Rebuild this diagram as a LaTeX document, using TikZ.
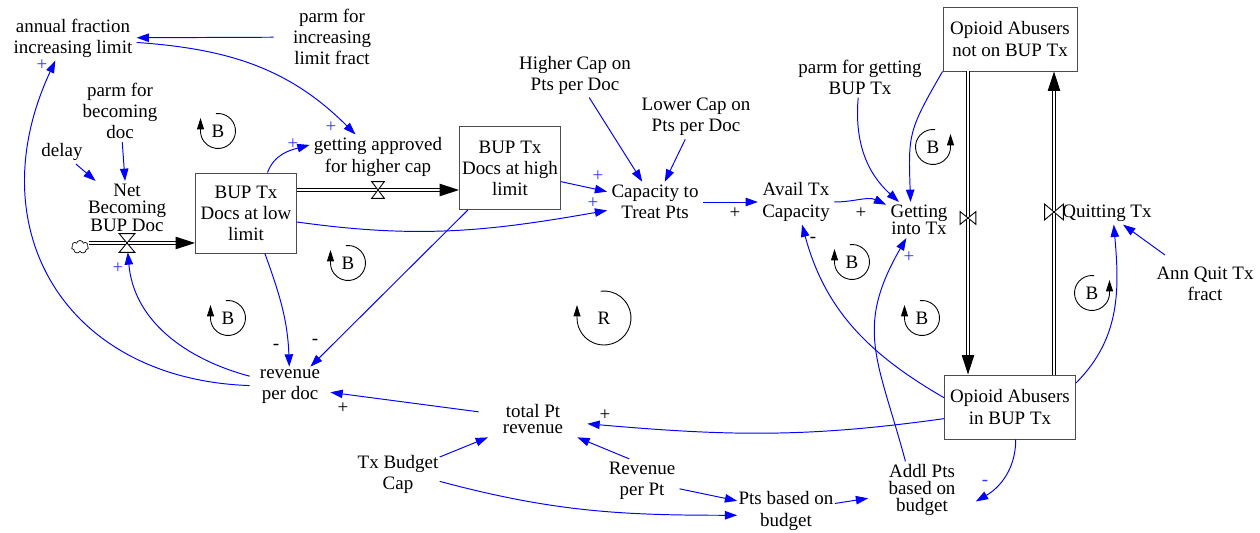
\documentclass[tikz,border=0pt]{standalone}
\usepackage{fontspec}
\setmainfont{Liberation Serif}
\usetikzlibrary{arrows.meta,shapes.symbols,positioning}

\begin{document}
\begin{tikzpicture}[x=0.02cm, y=0.02cm,
		var/.style={inner xsep=0.08cm, inner ysep=0.06cm, align=center, font=\fontsize{10.8}{12}\selectfont},
		tight/.style={var, font=\fontsize{10.8}{9.5}\selectfont},
		stock/.style={rectangle, draw=black!70, line width=0.55pt, align=center, inner sep=0pt, font=\fontsize{10.8}{12}\selectfont},
		link/.style={->, blue, line width=0.55pt},
		pipe/.style={double, double distance=1.5pt, line width=0.55pt, -{Triangle[length=11pt,width=7pt]}},
		valve/.style={rectangle, inner sep=0pt},
		vline/.style={draw, fill=white, line width=0.5pt},
		sgn/.style={inner sep=0pt, font=\fontsize{10.8}{12}\selectfont},
		bsgn/.style={sgn, blue!80},
		pics/cwloop/.style args={#1/#2}{code={
				\draw[line width=0.5pt, -{Triangle[length=6.5pt,width=4pt]}] (97:#2) arc[start angle=97, end angle=-180, radius=#2] -- ++(0,0.26cm);
				\node[sgn] {#1};}},
		pics/ccwloop/.style args={#1/#2}{code={
				\draw[line width=0.5pt, -{Triangle[length=6.5pt,width=4pt]}] (83:#2) arc[start angle=83, end angle=360, radius=#2] -- ++(0,0.26cm);
				\node[sgn] {#1};}},
		>={Triangle[length=7pt,width=4.8pt]}
		]
		\useasboundingbox (0,0) rectangle (1260,-533);
		
		\node[var] (afil) at (73,-38) {annual fraction\\increasing limit};
		\node[var] (pilf) at (332,-37) {parm for\\increasing\\limit fract};
		\node[var] (pbd) at (120,-111) {parm for\\becoming\\doc};
		\node[var] (delay) at (62,-152) {delay};
		\node[tight, font=\fontsize{10.8}{9.4}\selectfont] (nbbd) at (127,-208) {Net\\Becoming\\BUP Doc};
		\node[stock, minimum width=2.02cm, minimum height=1.6cm] (low) at (246,-213) {BUP Tx\\Docs at low\\limit};
		\node[var] (gahc) at (378,-157) {getting approved\\for higher cap};
		\node[stock, minimum width=2.02cm, minimum height=1.66cm] (high) at (510,-168) {BUP Tx\\Docs at high\\limit};
		\node[var] (hcap) at (575,-75) {Higher Cap on\\Pts per Doc};
		\node[var] (lcap) at (696,-117) {Lower Cap on\\Pts per Doc};
		\node[var] (ctp) at (655,-202) {Capacity to\\Treat Pts};
		\node[var] (atc) at (796,-202) {Avail Tx\\Capacity};
		\node[var] (pgbt) at (860,-77) {parm for getting\\BUP Tx};
		\node[tight] (git) at (919,-220) {Getting\\into Tx};
		\node[stock, minimum width=2.68cm, minimum height=1.28cm] (oanot) at (1010,-39) {Opioid Abusers\\not on BUP Tx};
		\node[stock, minimum width=2.62cm, minimum height=1.28cm] (oain) at (1010,-407) {Opioid Abusers\\in BUP Tx};
		\node[var, inner xsep=0pt] (qt) at (1107,-213) {Quitting Tx};
		\node[var] (aqtf) at (1205,-284) {Ann Quit Tx\\fract};
		\node[var, inner xsep=0.2cm] (rpd) at (290,-387) {revenue\\per doc};
		\node[tight, inner xsep=0.48cm] (tpr) at (533,-419) {total Pt\\revenue};
		\node[var, inner xsep=0.02cm] (tbc) at (398,-474) {Tx Budget\\Cap};
		\node[var] (rpp) at (642,-481) {Revenue\\per Pt};
		\node[var, inner xsep=0.02cm] (pbb) at (786,-511) {Pts based on\\budget};
		\node[tight, inner xsep=0.4cm] (apbb) at (922,-490) {Addl Pts\\based on\\budget};
		
		\node[valve, minimum width=0.3cm, minimum height=0.36cm] (v1) at (127,-243) {};
		\node[valve, minimum width=0.24cm, minimum height=0.32cm] (v2) at (378,-190) {};
		\node[valve, minimum width=0.3cm, minimum height=0.24cm] (v3) at (968,-218) {};
		\node[valve, minimum width=0.36cm, minimum height=0.3cm] (v4) at (1054,-212) {};
		\node[cloud, draw, cloud puffs=7, minimum width=0.34cm, minimum height=0.26cm, inner sep=0pt, line width=0.4pt] (src) at (80,-247) {};
		
		\draw[pipe] (src.east |- v1) -- (v1 -| low.west);
		\draw[pipe] (v2 -| low.east) -- (v2 -| high.west);
		\draw[pipe] (v3 |- oanot.south) -- (v3 |- oain.north);
		\draw[pipe] (v4 |- oain.north) -- (v4 |- oanot.south);
		\draw[vline] (v1.south west) -- (v1.south east) -- (v1.north west) -- (v1.north east) -- cycle;
		\draw[vline] (v2.south west) -- (v2.south east) -- (v2.north west) -- (v2.north east) -- cycle;
		\draw[vline] (v3.south west) -- (v3.north west) -- (v3.south east) -- (v3.north east) -- cycle;
		\draw[vline] (v4.south west) -- (v4.north west) -- (v4.south east) -- (v4.north east) -- cycle;
		
		\draw[link, shorten <=0.3cm] (pilf) -- (afil);
		\draw[link] (afil) to[out=-4, in=135] (gahc);
		\draw[link] (rpd) to[out=178, in=-115, looseness=1.25] (afil.-128);
		\draw[link] (delay) -- (nbbd);
		\draw[link] (pbd) -- (nbbd);
		\draw[link] (rpd) to[out=165, in=-85] (v1);
		\draw[link] (low.62) to[out=70, in=195] (gahc.170);
		\draw[link] (low.-10) to[out=-8, in=190] (ctp);
		\draw[link] (high.-15) -- (ctp);
		\draw[link] (hcap) -- (ctp);
		\draw[link] (lcap) -- (ctp);
		\draw[link] (ctp) -- (atc);
		\draw[link] (atc) to[out=0, in=155] (git);
		\draw[link] (pgbt) to[out=-95, in=138] (git);
		\draw[link] (oanot.south west) to[out=-120, in=92, looseness=1.3] (git.115);
		\draw[link] (oain.172) to[out=150, in=-75] (atc);
		\draw[link] (apbb.120) to[out=105, in=-120, looseness=1.2] (git.-125);
		\draw[link] (oain.20) to[out=45, in=-85] (qt.-60);
		\draw[link, shorten <=0.3cm] (aqtf) -- (qt);
		\draw[link] (oain.-80) to[out=-90, in=30] (apbb.-12);
		\draw[link] (oain.-170) to[out=-172, in=-5] (tpr);
		\draw[link] (tpr) -- (rpd);
		\draw[link] (low.-65) to[out=-70, in=92] (rpd);
		\draw[link] (high) -- (rpd);
		\draw[link] (tbc) -- (tpr);
		\draw[link] (rpp.120) -- (tpr);
		\draw[link] (rpp) -- (pbb);
		\draw[link] (tbc.-10) to[out=-15, in=180] (pbb.-175);
		\draw[link] (pbb) -- (apbb);
		
		\node[bsgn] (s1) at (42,-65) {+};
		\node[bsgn] (s2) at (331,-127) {+};
		\node[bsgn] (s3) at (293,-144) {+};
		\node[bsgn] (s4) at (118,-268) {+};
		\node[bsgn] (s5) at (598,-176) {+};
		\node[bsgn] (s6) at (593,-203) {+};
		\node[sgn] (s7) at (735,-213) {+};
		\node[sgn] (s8) at (861,-213) {+};
		\node[sgn] (s9) at (813,-240) {-};
		\node[bsgn] (s10) at (909,-257) {+};
		\node[bsgn] (s11) at (985,-483) {-};
		\node[sgn] (s12) at (605,-415) {+};
		\node[sgn] (s13) at (343,-408) {+};
		\node[sgn] (s14) at (276,-347) {-};
		\node[sgn] (s15) at (315,-342) {-};
		
		\pic at (218,-131) {cwloop=B/0.35cm};
		\pic at (348,-263) {cwloop=B/0.35cm};
		\pic at (228,-318) {cwloop=B/0.35cm};
		\pic at (604,-318) {cwloop=R/0.54cm};
		\pic at (852,-262) {cwloop=B/0.35cm};
		\pic at (922,-318) {cwloop=B/0.35cm};
		\pic at (933,-147) {ccwloop=B/0.35cm};
		\pic at (1092,-293) {ccwloop=B/0.35cm};
		
	\end{tikzpicture}
\end{document}
